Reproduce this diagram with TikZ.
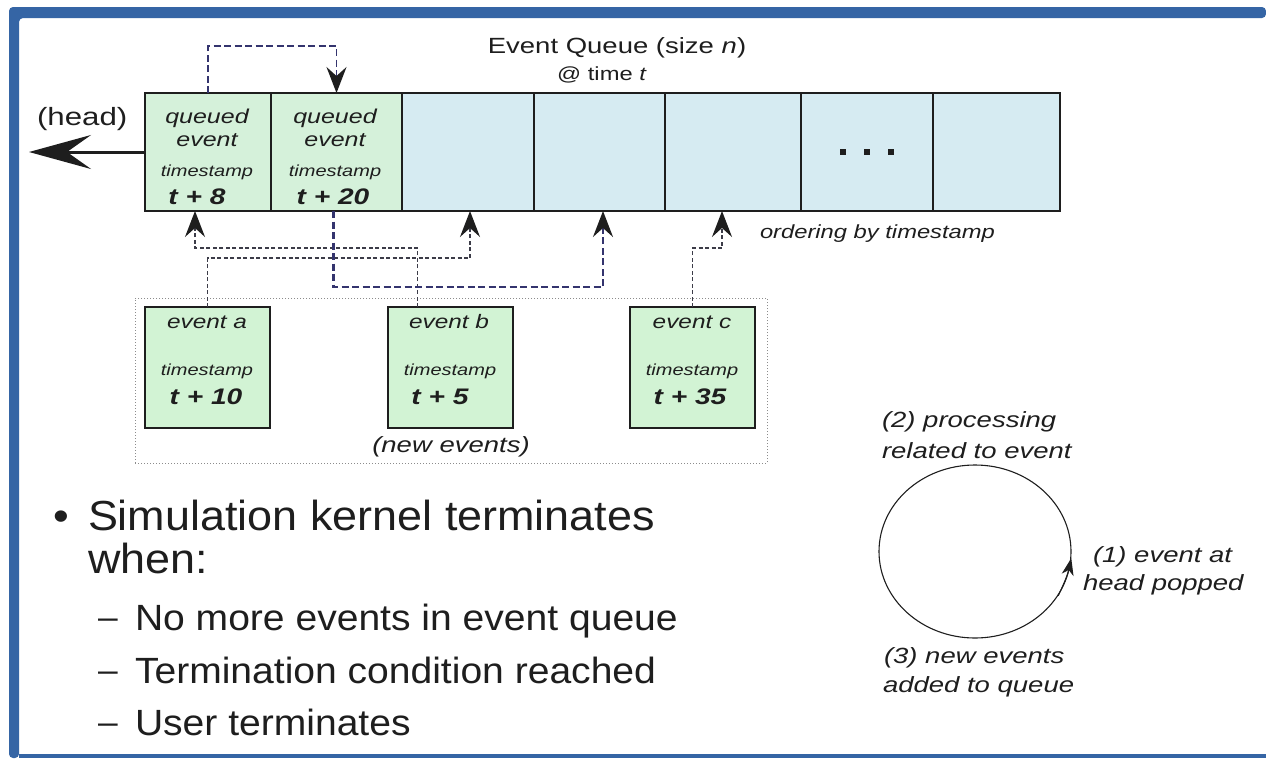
\documentclass[tikz,border=0pt]{standalone}
\usepackage{fontspec}
\setmainfont{Liberation Sans}
\newfontfamily\dgfont{Liberation Sans}[FakeStretch=1.25]
\newfontfamily\slfont{Liberation Sans}[FakeStretch=1.07]
\usetikzlibrary{arrows.meta,shapes.geometric}

\definecolor{framebl}{HTML}{3565A5}
\definecolor{qgreen}{HTML}{D5F1DA}
\definecolor{egreen}{HTML}{D2F3D4}
\definecolor{qblue}{HTML}{D6EBF2}
\definecolor{linkgray}{HTML}{3C3C48}
\definecolor{linkblue}{HTML}{34346E}
\definecolor{inkdark}{HTML}{1E1E1E}

\newcommand\pxs[1]{\fontsize{#1}{#1}\selectfont}

\tikzset{
  cell/.style={draw=inkdark, line width=1.4pt, minimum height=118pt,
    inner sep=0pt, outer sep=0pt, anchor=north west},
  qcell/.style={cell, fill=qgreen},
  bcell/.style={cell, fill=qblue},
  evbox/.style={draw=inkdark, line width=1.4pt, fill=egreen,
    minimum width=125pt, minimum height=121pt, inner sep=0pt, outer sep=0pt},
  txt/.style={inner sep=0pt, outer sep=0pt, text=inkdark},
  dg/.style={txt, font=\dgfont},
  dgi/.style={txt, font=\dgfont\itshape},
  dgb/.style={txt, font=\dgfont\bfseries\itshape},
  sl/.style={txt, font=\slfont},
  link/.style={draw=linkgray, line width=1.4pt, dash pattern=on 4pt off 2.5pt},
  linkb/.style={draw=linkblue, line width=2.2pt, dash pattern=on 7pt off 3.5pt},
  arrowup/.style={-{Stealth[length=26pt,width=20pt,inset=9pt,color=inkdark]}},
}

\begin{document}
\begin{tikzpicture}[x=1pt,y=-1pt]
% page and slide frame
\fill[white] (0,0) rectangle (1266,758);
\useasboundingbox (0,0) rectangle (1266,758);
\fill[framebl, rounded corners=4pt] (9,758) |- (1266,7) -- (1266,18) -| (19,758) -- cycle;
\fill[framebl] (19,754) rectangle (1266,758);

% title of the queue
\node[dg, anchor=base] (qtitle) at (617,53) {\pxs{22}Event Queue (size \textit{n})};
\node[dg, anchor=base] (qtime) at (602,80) {\pxs{19}@ time \textit{t}};

% queue cells
\node[qcell, minimum width=126pt] (q1) at (145,93) {};
\node[qcell, minimum width=131pt] (q2) at (271,93) {};
\node[bcell, minimum width=132pt] (q3) at (402,93) {};
\node[bcell, minimum width=131pt] (q4) at (534,93) {};
\node[bcell, minimum width=136pt] (q5) at (665,93) {};
\node[bcell, minimum width=132pt] (q6) at (801,93) {};
\node[bcell, minimum width=127pt] (q7) at (933,93) {};

% the ellipsis in the sixth cell
\foreach \dx in {-24,0,24}
  \fill[inkdark] ([xshift=\dx pt]q6.center) ++(-3,-3) rectangle ++(6,6);

% contents of the two queued events
\node[dgi, anchor=base] (q1a) at (207,123) {\pxs{20}queued};
\node[dgi, anchor=base] (q1b) at (207,146) {\pxs{20}event};
\node[dgi, anchor=base] (q1c) at (207,176) {\pxs{16}timestamp};
\node[dgb, anchor=base] (q1d) at (197,204) {\pxs{22.5}t + 8};
\node[dgi, anchor=base] (q2a) at (335,123) {\pxs{20}queued};
\node[dgi, anchor=base] (q2b) at (335,146) {\pxs{20}event};
\node[dgi, anchor=base] (q2c) at (335,176) {\pxs{16}timestamp};
\node[dgb, anchor=base] (q2d) at (333,204) {\pxs{22.5}t + 20};

% head of the queue
\coordinate (headtip) at (29,152);
\draw[inkdark, line width=3pt, -{Stealth[length=62pt,width=34pt,inset=24pt]}] (q1.west) -- (headtip);
\node[dg, anchor=base west] (headlbl) at (37,125) {\pxs{25}(head)};

\node[dgi, anchor=base west] (order) at (760,238) {\pxs{19}ordering by timestamp};

% new events
\node[draw=black!45, line width=1pt, dotted, minimum width=632pt, minimum height=165pt,
  inner sep=0pt] (newbox) at (451,380.5) {};
\node[evbox] (ea) at (207.5,367.5) {};
\node[evbox] (eb) at (450.5,367.5) {};
\node[evbox] (ec) at (692.5,367.5) {};

\node[dgi, anchor=base] (eat) at (207,328) {\pxs{19.5}event a};
\node[dgi, anchor=base] (eas) at (207,375) {\pxs{16}timestamp};
\node[dgb, anchor=base] (eav) at (206,404) {\pxs{22.5}t + 10};
\node[dgi, anchor=base] (ebt) at (449,328) {\pxs{19.5}event b};
\node[dgi, anchor=base] (ebs) at (450,375) {\pxs{16}timestamp};
\node[dgb, anchor=base] (ebv) at (440,404) {\pxs{22.5}t + 5};
\node[dgi, anchor=base] (ect) at (692,328) {\pxs{19.5}event c};
\node[dgi, anchor=base] (ecs) at (692,375) {\pxs{16}timestamp};
\node[dgb, anchor=base] (ecv) at (690,404) {\pxs{22.5}t + 35};

\node[dgi, anchor=base] (newlbl) at (451,452) {\pxs{22}(new events)};

% insertions into the queue
\draw[link, arrowup] ([xshift=-33pt]eb.north) -- ++(0,-59) -| ([xshift=-13pt]q1.south);
\draw[link, arrowup] (ea.north) -- ++(0,-49) -| ([xshift=2pt]q3.south);
\draw[linkb, arrowup] ([xshift=-3pt]q2.south) -- ++(0,76) -| ([xshift=3.5pt]q4.south);
\draw[link, arrowup] (ec.north) -- ++(0,-59) -| ([xshift=-11pt]q5.south);
\draw[linkb, line width=1.6pt, arrowup] (q1.north) -- ++(0,-47) -| (q2.north);

% processing cycle
\node[draw=inkdark, line width=1.1pt, ellipse, minimum width=192pt, minimum height=173pt,
  inner sep=0pt] (cyc) at (975,551.5) {};
\draw[inkdark, line width=1.1pt, -{Stealth[length=17pt,width=12pt,inset=5pt]}]
  (cyc.-28) to[bend right=7] (cyc.-4);

\node[dgi, anchor=base west] (c2a) at (882,427) {\pxs{22}(2) processing};
\node[dgi, anchor=base west] (c2b) at (882,458) {\pxs{22}related to event};
\node[dgi, anchor=base west] (c1a) at (1093,562) {\pxs{22}(1) event at};
\node[dgi, anchor=base west] (c1b) at (1083,590) {\pxs{22}head popped};
\node[dgi, anchor=base west] (c3a) at (884,663) {\pxs{22}(3) new events};
\node[dgi, anchor=base west] (c3b) at (883,692) {\pxs{22}added to queue};

% termination conditions
\node[sl, anchor=base west] (bul) at (53,530) {\pxs{42}•};
\node[sl, anchor=base west] (b1) at (88,530) {\pxs{42}Simulation kernel terminates};
\node[sl, anchor=base west] (b2) at (88,573) {\pxs{42}when:};
\node[sl, anchor=base west] (d1) at (98,630) {\pxs{33}\raisebox{1.5pt}{–}};
\node[sl, anchor=base west] (s1) at (135,630) {\pxs{36.5}No more events in event queue};
\node[sl, anchor=base west] (d2) at (98,683) {\pxs{33}\raisebox{1.5pt}{–}};
\node[sl, anchor=base west] (s2) at (135,683) {\pxs{36.5}Termination condition reached};
\node[sl, anchor=base west] (d3) at (98,735) {\pxs{33}\raisebox{1.5pt}{–}};
\node[sl, anchor=base west] (s3) at (135,735) {\pxs{36.5}User terminates};
\end{tikzpicture}
\end{document}
